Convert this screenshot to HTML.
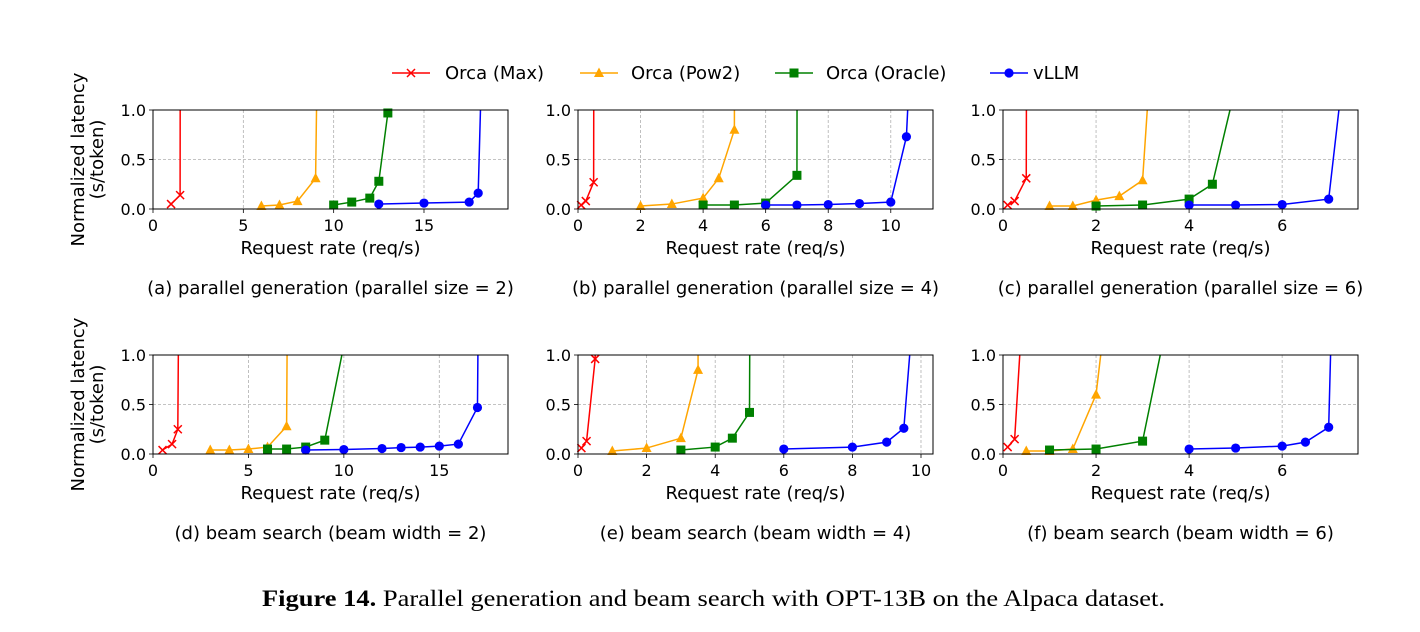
<!DOCTYPE html>
<html><head><meta charset="utf-8"><style>
body{margin:0;background:#fff;}
svg text{font-family:"DejaVu Sans","Liberation Sans",sans-serif;}
</style></head><body>
<svg id="fig" width="1420" height="627" xmlns="http://www.w3.org/2000/svg"></svg>
<script>
// ---- data ----
const seriesNames = ["Orca (Max)","Orca (Pow2)","Orca (Oracle)","vLLM"];
const seriesColors = ["#ff0000","#ffa500","#008000","#0000ff"];
const seriesMarkers = ["x","tri","sq","circ"];
const captions = ["(a) parallel generation (parallel size = 2)","(b) parallel generation (parallel size = 4)","(c) parallel generation (parallel size = 6)","(d) beam search (beam width = 2)","(e) beam search (beam width = 4)","(f) beam search (beam width = 6)"];
const xMaxes = [19.65,11.35,7.63,18.6,10.35,7.63];
const xTickSets = [[0,5,10,15],[0,2,4,6,8,10],[0,2,4,6],[0,5,10,15],[0,2,4,6,8,10],[0,2,4,6]];
const yTicks = [0,0.5,1.0];
const yTickLabels = ["0.0","0.5","1.0"];
const pA_max_x=[1,1.5,1.55], pA_max_y=[0.05,0.14,10];
const pA_pow_x=[6,7,8,9,9.2], pA_pow_y=[0.03,0.04,0.08,0.31,3];
const pA_ora_x=[10,11,12,12.5,13,13.1], pA_ora_y=[0.04,0.07,0.11,0.28,0.97,3];
const pA_vl_x=[12.5,15,17.5,18,18.5], pA_vl_y=[0.05,0.06,0.07,0.16,3.5];
const pB_max_x=[0.1,0.25,0.5,0.52], pB_max_y=[0.04,0.08,0.27,5];
const pB_pow_x=[2,3,4,4.5,5,5.02], pB_pow_y=[0.03,0.05,0.11,0.31,0.8,5];
const pB_ora_x=[4,5,6,7,7.02], pB_ora_y=[0.04,0.04,0.06,0.34,5];
const pB_vl_x=[6,7,8,9,10,10.5,10.6], pB_vl_y=[0.04,0.04,0.045,0.055,0.07,0.73,1.4];
const pC_max_x=[0.1,0.25,0.5,0.52], pC_max_y=[0.04,0.08,0.31,5];
const pC_pow_x=[1,1.5,2,2.5,3,3.2], pC_pow_y=[0.03,0.03,0.09,0.13,0.29,1.7];
const pC_ora_x=[2,3,4,4.5,5], pC_ora_y=[0.03,0.04,0.1,0.25,1.24];
const pC_vl_x=[4,5,6,7,7.5], pC_vl_y=[0.04,0.04,0.045,0.1,2.15];
const pD_max_x=[0.5,1,1.3,1.4], pD_max_y=[0.04,0.1,0.25,3];
const pD_pow_x=[3,4,5,6,7,7.1], pD_pow_y=[0.04,0.04,0.05,0.07,0.28,3.2];
const pD_ora_x=[6,7,8,9,10], pD_ora_y=[0.05,0.05,0.07,0.14,1.1];
const pD_vl_x=[8,10,12,13,14,15,16,17,17.2], pD_vl_y=[0.04,0.045,0.055,0.065,0.07,0.08,0.1,0.47,5];
const pE_max_x=[0.1,0.25,0.5,0.55], pE_max_y=[0.06,0.13,0.96,3];
const pE_pow_x=[1,2,3,3.5,3.52], pE_pow_y=[0.03,0.06,0.16,0.85,5];
const pE_ora_x=[3,4,4.5,5,5.05], pE_ora_y=[0.04,0.07,0.16,0.42,5];
const pE_vl_x=[6,8,9,9.5,10], pE_vl_y=[0.05,0.07,0.12,0.26,2.43];
const pF_max_x=[0.1,0.25,0.5], pF_max_y=[0.07,0.15,2.08];
const pF_pow_x=[0.5,1,1.5,2,2.5], pF_pow_y=[0.03,0.03,0.05,0.6,2.6];
const pF_ora_x=[1,2,3,4], pF_ora_y=[0.04,0.05,0.13,2.42];
const pF_vl_x=[4,5,6,6.5,7,7.2], pF_vl_y=[0.05,0.06,0.08,0.12,0.27,3.9];
const panels=[
 [[pA_max_x,pA_max_y],[pA_pow_x,pA_pow_y],[pA_ora_x,pA_ora_y],[pA_vl_x,pA_vl_y]],
 [[pB_max_x,pB_max_y],[pB_pow_x,pB_pow_y],[pB_ora_x,pB_ora_y],[pB_vl_x,pB_vl_y]],
 [[pC_max_x,pC_max_y],[pC_pow_x,pC_pow_y],[pC_ora_x,pC_ora_y],[pC_vl_x,pC_vl_y]],
 [[pD_max_x,pD_max_y],[pD_pow_x,pD_pow_y],[pD_ora_x,pD_ora_y],[pD_vl_x,pD_vl_y]],
 [[pE_max_x,pE_max_y],[pE_pow_x,pE_pow_y],[pE_ora_x,pE_ora_y],[pE_vl_x,pE_vl_y]],
 [[pF_max_x,pF_max_y],[pF_pow_x,pF_pow_y],[pF_ora_x,pF_ora_y],[pF_vl_x,pF_vl_y]]
];
// ---- drawing ----
const NS="http://www.w3.org/2000/svg";
const svg=document.getElementById('fig');
function mk(tag,attrs,parent){const e=document.createElementNS(NS,tag);for(const k in attrs)e.setAttribute(k,attrs[k]);(parent||svg).appendChild(e);return e;}
function marker(g,type,cx,cy,color){
  let m;
  if(type==="x"){m=mk('path',{d:`M${cx-4},${cy-4}L${cx+4},${cy+4}M${cx-4},${cy+4}L${cx+4},${cy-4}`,stroke:color,'stroke-width':1.5,fill:'none'},g);}
  else if(type==="tri"){m=mk('polygon',{points:`${cx},${cy-5.5} ${cx-5},${cy+4} ${cx+5},${cy+4}`,fill:color},g);}
  else if(type==="sq"){m=mk('rect',{x:cx-4.5,y:cy-4.5,width:9,height:9,fill:color},g);}
  else {m=mk('circle',{cx:cx,cy:cy,r:4.6,fill:color},g);}
  return m;
}
const lefts=[153,578,1003], tops=[110,355], W=355, H=99;
for(let p=0;p<6;p++){
  const L=lefts[p%3], T=tops[Math.floor(p/3)], B=T+H, R=L+W;
  const xmax=xMaxes[p];
  const sx=v=>L+v/xmax*W, sy=v=>B-v*H;
  const g=mk('g',{});
  
  
  const cid='clip'+p;
  const cp=mk('clipPath',{id:cid},g); mk('rect',{x:L,y:T,width:W,height:H},cp);
  xTickSets[p].forEach(t=>{
    const ln=mk('line',{x1:sx(t),x2:sx(t),y1:T,y2:B,stroke:'#b0b0b0','stroke-dasharray':'3,2','stroke-width':0.8},g);
    
    mk('line',{x1:sx(t),x2:sx(t),y1:B,y2:B+4,stroke:'#000','stroke-width':0.8},g);
    const tx=mk('text',{x:sx(t),y:B+22,'text-anchor':'middle','font-size':16,fill:'#000'},g);tx.textContent=t;
    
  });
  yTicks.forEach((t,i)=>{
    const ln=mk('line',{x1:L,x2:R,y1:sy(t),y2:sy(t),stroke:'#b0b0b0','stroke-dasharray':'3,2','stroke-width':0.8},g);
    
    mk('line',{x1:L-4,x2:L,y1:sy(t),y2:sy(t),stroke:'#000','stroke-width':0.8},g);
    const tx=mk('text',{x:L-7,y:sy(t)+6,'text-anchor':'end','font-size':16,fill:'#000'},g);tx.textContent=yTickLabels[i];
    
  });
  panels[p].forEach((s,si)=>{
    const xs=s[0], ys=s[1];
    const pts=xs.map((x,i)=>sx(x)+','+sy(ys[i])).join(' ');
    const pl=mk('polyline',{points:pts,fill:'none',stroke:seriesColors[si],'stroke-width':1.5,'clip-path':`url(#${cid})`},g);
    
    
    xs.forEach((x,i)=>{ if(ys[i]<=1.0){
      const m=marker(g,seriesMarkers[si],sx(x),sy(ys[i]),seriesColors[si]);
      
    }});
  });
  const fr=mk('rect',{x:L,y:T,width:W,height:H,fill:'none',stroke:'#000','stroke-width':1},g);
  
  const xl=mk('text',{x:L+W/2,y:B+45,'text-anchor':'middle','font-size':18,fill:'#000'},g);xl.textContent='Request rate (req/s)';
  
  const cap=mk('text',{x:L+W/2,y:T+184,'text-anchor':'middle','font-size':18,fill:'#000'},g);cap.textContent=captions[p];
  
  if(p%3===0){
    const cy=T+H/2;
    const y1=mk('text',{x:0,y:0,'text-anchor':'middle','font-size':18,fill:'#000',transform:`translate(84,${cy}) rotate(-90)`},g);y1.textContent='Normalized latency';
    
    const y2=mk('text',{x:0,y:0,'text-anchor':'middle','font-size':18,fill:'#000',transform:`translate(103,${cy}) rotate(-90)`},g);y2.textContent='(s/token)';
    
  }
}
const legX=[392,580,775,990], legTX=[445,631,826,1033];
const lg=mk('g',{});


seriesNames.forEach((n,i)=>{
  const e=mk('g',{},lg);
  
  
  mk('line',{x1:legX[i],x2:legX[i]+38,y1:73,y2:73,stroke:seriesColors[i],'stroke-width':1.5},e);
  marker(e,seriesMarkers[i],legX[i]+19,73,seriesColors[i]);
  const t=mk('text',{x:legTX[i],y:79,'font-size':18,fill:'#000'},e);t.textContent=n;
});
const fc=mk('text',{x:262,y:606,'font-size':23,fill:'#000','font-family':'"Liberation Serif",serif',textLength:903,lengthAdjust:'spacingAndGlyphs'});


fc.innerHTML='<tspan font-weight="bold" font-family="Liberation Serif, serif">Figure 14.</tspan><tspan font-family="Liberation Serif, serif"> Parallel generation and beam search with OPT-13B on the Alpaca dataset.</tspan>';
</script>
</body></html>
